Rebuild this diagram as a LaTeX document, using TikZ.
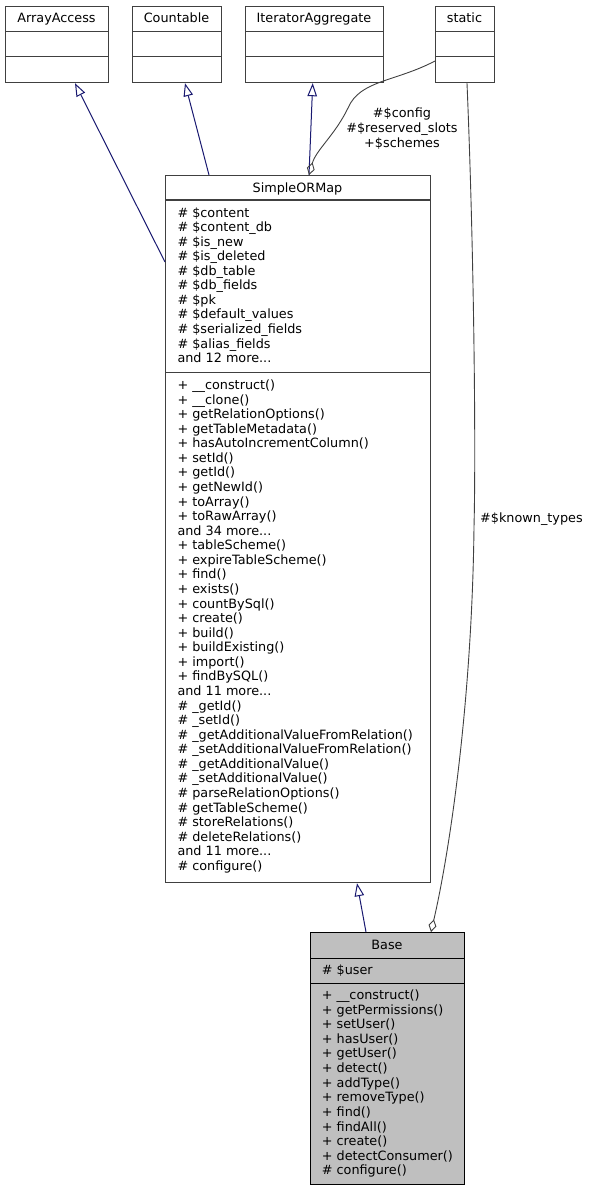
\documentclass[tikz,border=0pt]{standalone}
\usepackage{fontspec}
\setmainfont{DejaVu Sans}
\usetikzlibrary{arrows.meta}
\definecolor{boxgray}{HTML}{404040}
\definecolor{inhblue}{HTML}{191970}
\definecolor{edgegray}{HTML}{404040}
\definecolor{basefill}{HTML}{BFBFBF}
\newcommand\mydots{...}
\begin{document}
\begin{tikzpicture}[x=1bp,y=-1bp,
  box/.style={draw=boxgray, line width=1.2bp, fill=white, inner sep=0, anchor=north west},
  divline/.style={draw=boxgray, line width=1.1bp},
  txt/.style={font=\fontsize{12.8bp}{14.6bp}\selectfont, inner sep=0, anchor=base west},
  ttl/.style={txt, anchor=base},
  inh/.style={draw=inhblue, line width=1bp, -{Triangle[open, length=13bp, width=9.5bp]}},
  agg/.style={draw=edgegray, line width=0.9bp, -{Diamond[open, length=13bp, width=8bp]}}]
\useasboundingbox (0,0) rectangle (590,1191);
% top boxes
\node[box, minimum width=103bp, minimum height=76.3bp] (aa) at (5,5.7) {};
\node[box, minimum width=89bp, minimum height=76.3bp] (ct) at (132,5.7) {};
\node[box, minimum width=138bp, minimum height=76.3bp] (ia) at (245,5.7) {};
\node[box, minimum width=59bp, minimum height=76.3bp] (st) at (435,5.7) {};
\foreach \b in {aa,ct,ia,st}{
  \draw[divline] (\b.north west |- 0,31.7) -- (\b.north east |- 0,31.7);
  \draw[divline] (\b.north west |- 0,56.7) -- (\b.north east |- 0,56.7);
}
\node[ttl] (aat) at (56.5,22) {ArrayAccess};
\node[ttl] (ctt) at (176.5,22) {Countable};
\node[ttl] (iat) at (314,22) {IteratorAggregate};
\node[ttl] (stt) at (464.5,22) {static};
% SimpleORMap
\node[box, minimum width=265bp, minimum height=707bp] (smo) at (165,175) {};
\draw[divline] (smo.north west |- 0,200) -- (smo.north east |- 0,200);
\draw[divline] (smo.north west |- 0,372.5) -- (smo.north east |- 0,372.5);
\node[ttl] (smot) at (297.5,192) {SimpleORMap};
\foreach \t [count=\i from 0] in {\# \$content, \# \$content\_db, \# \$is\_new, \# \$is\_deleted, \# \$db\_table, \# \$db\_fields, \# \$pk, \# \$default\_values, \# \$serialized\_fields, \# \$alias\_fields, and 12 more\mydots}
  \node[txt] (smoa\i) at (177.3, 217+14.57*\i) {\t};
\foreach \t [count=\i from 0] in {+ \_\_construct(), + \_\_clone(), + getRelationOptions(), + getTableMetadata(), + hasAutoIncrementColumn(), + setId(), + getId(), + getNewId(), + toArray(), + toRawArray(), and 34 more\mydots, + tableScheme(), + expireTableScheme(), + find(), + exists(), + countBySql(), + create(), + build(), + buildExisting(), + import(), + findBySQL(), and 11 more\mydots, \# \_getId(), \# \_setId(), \# \_getAdditionalValueFromRelation(), \# \_setAdditionalValueFromRelation(), \# \_getAdditionalValue(), \# \_setAdditionalValue(), \# parseRelationOptions(), \# getTableScheme(), \# storeRelations(), \# deleteRelations(), and 11 more\mydots, \# configure()}
  \node[txt] (smom\i) at (177.3, 389.5+14.57*\i) {\t};
% Base
\node[box, draw=black, fill=basefill, minimum width=154bp, minimum height=252bp] (base) at (310,932) {};
\draw[divline, draw=black] (base.north west |- 0,958.7) -- (base.north east |- 0,958.7);
\draw[divline, draw=black] (base.north west |- 0,983.3) -- (base.north east |- 0,983.3);
\node[ttl] (baset) at (387,949) {Base};
\node[txt] (basea) at (321.7,974) {\# \$user};
\foreach \t [count=\i from 0] in {+ \_\_construct(), + getPermissions(), + setUser(), + hasUser(), + getUser(), + detect(), + addType(), + removeType(), + find(), + findAll(), + create(), + detectConsumer(), \# configure()}
  \node[txt] (basem\i) at (321.7, 999.5+14.62*\i) {\t};
% inheritance edges
\draw[inh] ([yshift=-87bp]smo.north west) -- ([xshift=70bp]aa.south west);
\draw[inh] ([xshift=44bp]smo.north west) -- ([xshift=53bp]ct.south west);
\draw[inh] ([xshift=144bp]smo.north west) -- ([xshift=67.7bp]ia.south west);
\draw[inh] ([xshift=56bp]base.north west) -- ([xshift=192bp]smo.south west);
% aggregation edges
\draw[agg] ([yshift=-55.3bp]st.north west) .. controls (395,82) and (360,80) .. (348,108) .. controls (335,135) and (316,150) .. ([xshift=144bp]smo.north west);
\draw[agg] ([xshift=32bp]st.south west) .. controls (474,250) and (476,450) .. (474,527) .. controls (472,700) and (450,850) .. ([xshift=121bp]base.north west);
% labels
\node[ttl] (cfg1) at (402,117) {\#\$config};
\node[ttl] (cfg2) at (402,132) {\#\$reserved\_slots};
\node[ttl] (cfg3) at (402,147) {+\$schemes};
\node[txt] (kt) at (480,522) {\#\$known\_types};
\end{tikzpicture}
\end{document}
